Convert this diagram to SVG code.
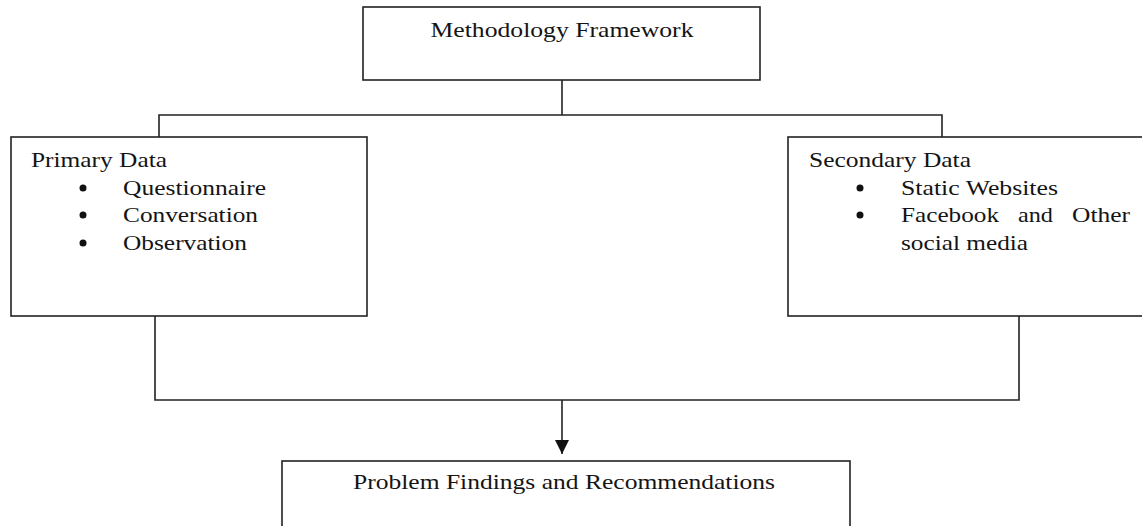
<svg xmlns="http://www.w3.org/2000/svg" width="1142" height="526" viewBox="0 0 1142 526">
<style>
.box{fill:#fff;stroke:#222;stroke-width:1.6}
.ln{fill:none;stroke:#222;stroke-width:1.6}
.dot{fill:#111}
text{font-family:"Liberation Serif","Times New Roman",serif;font-size:21px;fill:#141414}
.c{text-anchor:middle}
</style>
<defs>
<marker id="ah" markerWidth="14" markerHeight="14" refX="14" refY="7" orient="auto" markerUnits="userSpaceOnUse" viewBox="0 0 14 14">
<path d="M0,0 L14,7 L0,14 Z" fill="#111"/>
</marker>
</defs>
<rect width="1142" height="526" fill="#fff"/>
<g id="connectors">
<path class="ln" d="M562,80 V115"/>
<path class="ln" d="M159,137 V115 H942 V137"/>
<path class="ln" d="M155,316 V400 H1019 V316"/>
<path class="ln" d="M562,400 V454" marker-end="url(#ah)"/>
</g>
<g id="methodology">
<rect class="box" x="363" y="7" width="397" height="73"/>
<text class="c" x="562" y="37" textLength="263" lengthAdjust="spacingAndGlyphs">Methodology Framework</text>
</g>
<g id="primary">
<rect class="box" x="11" y="137" width="356" height="179"/>
<text x="31" y="167" textLength="136" lengthAdjust="spacingAndGlyphs">Primary Data</text>
<circle class="dot" cx="83" cy="188" r="3.5"/>
<text x="123" y="195" textLength="143" lengthAdjust="spacingAndGlyphs">Questionnaire</text>
<circle class="dot" cx="83" cy="215" r="3.5"/>
<text x="123" y="222" textLength="135" lengthAdjust="spacingAndGlyphs">Conversation</text>
<circle class="dot" cx="83" cy="243" r="3.5"/>
<text x="123" y="250" textLength="124" lengthAdjust="spacingAndGlyphs">Observation</text>
</g>
<g id="secondary">
<rect class="box" x="788" y="137" width="360" height="179"/>
<text x="809" y="167" textLength="162" lengthAdjust="spacingAndGlyphs">Secondary Data</text>
<circle class="dot" cx="860" cy="188" r="3.5"/>
<text x="901" y="195" textLength="157" lengthAdjust="spacingAndGlyphs">Static Websites</text>
<circle class="dot" cx="860" cy="215" r="3.5"/>
<text y="222"><tspan x="901" textLength="98" lengthAdjust="spacingAndGlyphs">Facebook</tspan> <tspan x="1018" textLength="35" lengthAdjust="spacingAndGlyphs">and</tspan> <tspan x="1072" textLength="58" lengthAdjust="spacingAndGlyphs">Other</tspan></text>
<text x="901" y="250" textLength="127" lengthAdjust="spacingAndGlyphs">social media</text>
</g>
<g id="findings">
<rect class="box" x="282" y="461" width="568" height="80"/>
<text class="c" x="564" y="489" textLength="422" lengthAdjust="spacingAndGlyphs">Problem Findings and Recommendations</text>
</g>
</svg>
